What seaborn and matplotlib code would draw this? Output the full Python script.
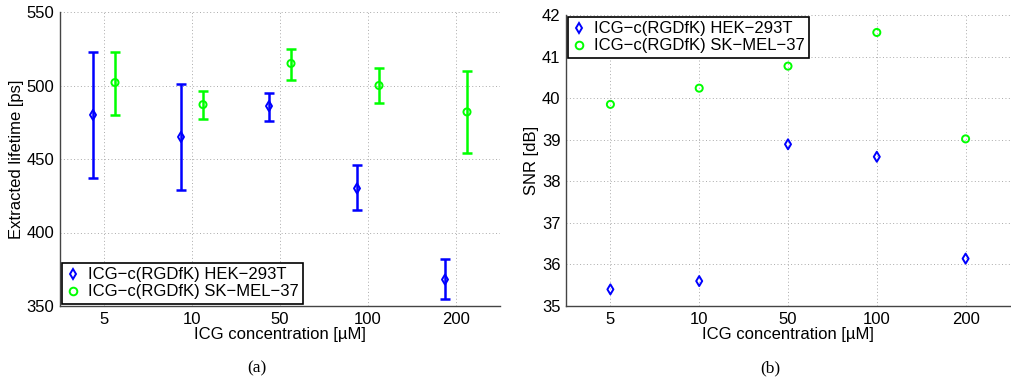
import numpy as np
import pandas as pd
import matplotlib
matplotlib.use("Agg")
import matplotlib.pyplot as plt
import seaborn as sns

concentrations = ["5", "10", "50", "100", "200"]
series_names = ["ICG\u2212c(RGDfK) HEK\u2212293T", "ICG\u2212c(RGDfK) SK\u2212MEL\u221237"]

hek_lifetime = [480, 465, 486, 430, 368]
hek_err_low = [437, 429, 476, 415, 355]
hek_err_high = [523, 501, 495, 446, 382]
sk_lifetime = [502, 487, 515, 500, 482]
sk_err_low = [480, 477, 504, 488, 454]
sk_err_high = [523, 496, 525, 512, 510]

hek_snr = [35.40, 35.60, 38.89, 38.59, 36.14]
sk_snr = [39.85, 40.24, 40.77, 41.58, 39.02]

sns.set_theme(style="white")
plt.rcParams['font.family'] = ['Liberation Sans', 'DejaVu Sans']
plt.rcParams['text.color'] = 'black'
plt.rcParams['axes.labelcolor'] = 'black'
plt.rcParams['xtick.color'] = 'black'
plt.rcParams['ytick.color'] = 'black'

colors = {series_names[0]: (0, 0, 1), series_names[1]: (0, 1, 0)}
markers = {series_names[0]: "d", series_names[1]: "o"}

fig = plt.figure(figsize=(10.11, 3.81), dpi=100)
axL = fig.add_axes([60/1011, 1-306/381, 440/1011, 294/381])
axR = fig.add_axes([566/1011, 1-306/381, 444/1011, 291/381])

pos = np.arange(1, len(concentrations) + 1)
offset = 0.125

# Left panel
dfL = pd.DataFrame({
    "x": np.concatenate([pos - offset, pos + offset]),
    "y": hek_lifetime + sk_lifetime,
    "lo": hek_err_low + sk_err_low,
    "hi": hek_err_high + sk_err_high,
    "series": [series_names[0]] * 5 + [series_names[1]] * 5,
})
for name, g in dfL.groupby("series", sort=False):
    axL.errorbar(g["x"], g["y"], yerr=[g["y"] - g["lo"], g["hi"] - g["y"]],
                 fmt="none", ecolor=colors[name], elinewidth=1.8, capsize=3.5, capthick=1.8, zorder=2)
sns.scatterplot(data=dfL, x="x", y="y", hue="series", style="series",
                palette=colors, markers=markers, ax=axL, s=26,
                linewidth=1.4, zorder=3, legend=False)

# Right panel
dfR = pd.DataFrame({
    "x": np.concatenate([pos, pos]),
    "y": hek_snr + sk_snr,
    "series": [series_names[0]] * 5 + [series_names[1]] * 5,
})
sns.scatterplot(data=dfR, x="x", y="y", hue="series", style="series",
                palette=colors, markers=markers, ax=axR, s=26,
                linewidth=1.4, zorder=3, legend=False)

def fix_open(ax):
    for c in ax.collections:
        if isinstance(c, matplotlib.collections.PathCollection):
            fc = c.get_facecolors()
            if len(fc):
                c.set_edgecolors(fc)
                c.set_facecolors("none")
fix_open(axL)
fix_open(axR)

for ax in (axL, axR):
    ax.set_xlim(0.5, 5.5)
    ax.set_xticks(pos)
    ax.set_xticklabels(concentrations)
    ax.set_xlabel("ICG concentration [\u00b5M]", fontsize=12, labelpad=0)
    ax.grid(True, linestyle=(0, (1, 2.5)), color="#aaaaaa", linewidth=0.7)
    ax.tick_params(axis="both", labelsize=12, direction="in", length=3, color="#333333", pad=4)
    for s in ("top", "right"):
        ax.spines[s].set_visible(False)
    for s in ("left", "bottom"):
        ax.spines[s].set_color("#444444")
        ax.spines[s].set_linewidth(1)

axL.set_ylim(350, 550)
axL.set_yticks([350, 400, 450, 500, 550])
axL.set_ylabel("Extracted lifetime [ps]", fontsize=12, labelpad=2)
axR.set_ylim(35, 42)
axR.set_yticks(range(35, 43))
axR.set_ylabel("SNR [dB]", fontsize=12, labelpad=2)

def make_legend(ax, loc, anchor):
    handles = [plt.Line2D([], [], linestyle="none", marker=markers[n], markersize=5.5,
                          markerfacecolor="none", markeredgecolor=colors[n], markeredgewidth=1.4)
               for n in series_names]
    leg = ax.legend(handles, series_names, loc=loc, bbox_to_anchor=anchor, fontsize=12,
                    frameon=True, fancybox=False, edgecolor="black", framealpha=1,
                    handlelength=0.8, handletextpad=0.5, borderpad=0.25, labelspacing=0.12,
                    borderaxespad=0)
    leg.get_frame().set_linewidth(1.2)

make_legend(axL, "lower left", (0.005, 0.008))
make_legend(axR, "upper left", (0.005, 0.992))

fig.text(257/1011, 1-368/381, "(a)", ha="center", va="center", fontsize=12.5, family="Liberation Serif")
fig.text(770/1011, 1-368/381, "(b)", ha="center", va="center", fontsize=12.5, family="Liberation Serif")

fig.savefig("out.png", dpi=100)
